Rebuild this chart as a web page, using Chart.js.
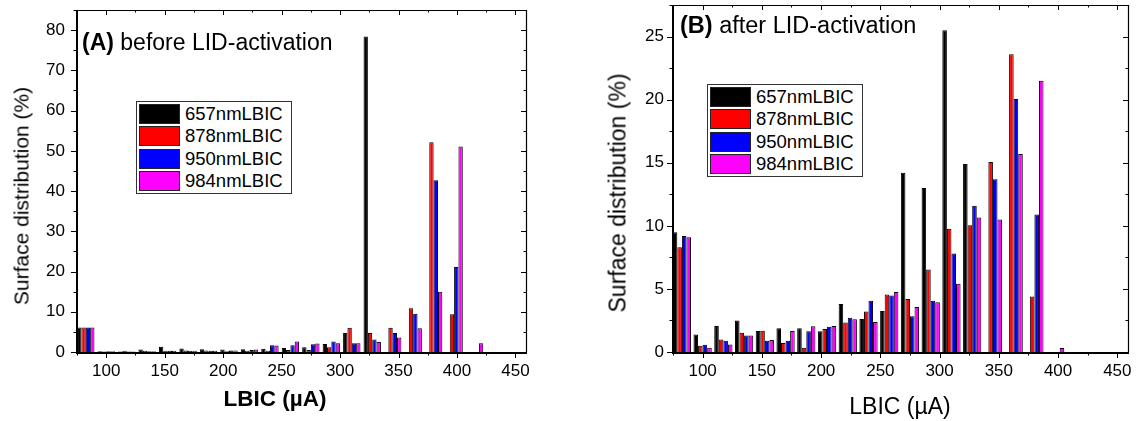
<!DOCTYPE html>
<html>
<head>
<meta charset="utf-8">
<script src="https://cdn.jsdelivr.net/npm/chart.js@4.4.1/dist/chart.umd.min.js"></script>
<style>
    body { margin: 0; background: #fff; width: 1140px; height: 421px; overflow: hidden; position: relative; font-family: "Liberation Sans", Arial, sans-serif; color: #000; }
    .panel { position: absolute; top: 0; width: 570px; height: 421px; }
    .panel canvas { position: absolute; left: 0; top: 0; }
    .lbl { position: absolute; white-space: nowrap; line-height: 1; }
    .rot { transform: translate(-50%, -50%) rotate(-90deg); }
    .legend { position: absolute; border: 1px solid #333; background: #fff; padding: 1px 8px 1px 2px; }
    .legend .row { display: flex; align-items: center; height: 22.3px; font-size: 18.5px; }
    .legend .sw { width: 41px; height: 20px; border: 1px solid #222; box-sizing: border-box; margin-right: 5px; }
</style>
</head>
<body>
<div class="panel" style="left:0">
    <canvas id="chartA" width="570" height="421"></canvas>
</div>
<div class="panel" style="left:570px">
    <canvas id="chartB" width="570" height="421"></canvas>
</div>

<div class="lbl" style="left:82px;top:30.5px;font-size:23px"><b>(A)</b> before LID-activation</div>
<div class="lbl" style="left:680px;top:14px;font-size:23.5px"><b>(B)</b> after LID-activation</div>
<div class="lbl rot" style="left:21px;top:196px;font-size:21px">Surface distribution (%)</div>
<div class="lbl rot" style="left:618px;top:193px;font-size:23px">Surface distribution (%)</div>
<div class="lbl" style="left:275px;top:399px;font-size:22.5px;font-weight:bold;transform:translate(-50%,-50%)">LBIC (µA)</div>
<div class="lbl" style="left:900px;top:406px;font-size:23px;transform:translate(-50%,-50%)">LBIC (µA)</div>

<div class="legend" id="legendA" style="left:136px;top:101px"></div>
<div class="legend" id="legendB" style="left:707px;top:84px"></div>

<script>
// bin centres (µA)
var lbic = [82.5, 100, 117.5, 135, 152.5, 170, 187.5, 205, 222.5, 240, 257.5, 275, 292.5, 310, 327.5, 345, 362.5, 380, 397.5, 415];

var seriesNames = ['657nmLBIC', '878nmLBIC', '950nmLBIC', '984nmLBIC'];
var seriesColors = ['#000000', '#ff0000', '#0000ff', '#ff00ff'];

// (A) before LID-activation, surface distribution in %
var before657 = [6.1, 0.2, 0.1, 0.6, 1.3, 0.9, 0.7, 0.6, 0.7, 0.8, 1.0, 1.2, 2.0, 4.7, 78.4, null, null, null, null, null];
var before878 = [6.1, 0.1, 0.3, 0.3, 0.3, 0.4, 0.4, 0.2, 0.3, 0.3, 0.5, 0.5, 1.2, 6.0, 4.7, 6.0, 10.9, 52.1, 9.4, null];
var before950 = [6.1, 0.2, 0.1, 0.2, 0.3, 0.3, 0.3, 0.4, 0.5, 1.7, 1.7, 1.9, 2.6, 2.2, 3.1, 4.7, 9.5, 42.7, 21.1, null];
var before984 = [6.1, 0.2, 0.1, 0.2, 0.3, 0.3, 0.3, 0.4, 0.6, 1.6, 2.6, 2.1, 2.2, 2.2, 2.5, 3.6, 5.9, 15.0, 51.1, 2.2];

// (B) after LID-activation
var after657 = [9.5, 1.38, 2.06, 2.5, 1.67, 1.88, 1.88, 1.64, 3.8, 2.62, 3.25, 14.2, 13.0, 25.5, 14.9, null, null, null, null, null];
var after878 = [8.3, 0.5, 1.0, 1.53, 1.69, 0.71, 0.34, 1.83, 2.33, 3.2, 4.55, 4.2, 6.53, 9.76, 10.05, 15.05, 23.6, 4.4, null, null];
var after950 = [9.2, 0.58, 0.9, 1.3, 0.9, 0.9, 1.64, 2.0, 2.72, 4.07, 4.47, 2.83, 4.07, 7.8, 11.6, 13.7, 20.05, 10.9, null, null];
var after984 = [9.1, 0.34, 0.6, 1.3, 0.95, 1.67, 2.04, 2.06, 2.6, 2.38, 4.76, 3.57, 3.94, 5.4, 10.66, 10.5, 15.7, 21.5, 0.32, null];

var tickFont = { family: '"Liberation Sans", Arial, sans-serif', size: 17 };

// Origin style frame: ticks out on bottom/left, in on top/right, minor ticks shorter
var frameTicks = {
    id: 'frameTicks',
    afterDatasetsDraw: function(chart, args, opts) {
        var ctx = chart.ctx;
        var a = chart.chartArea;
        var xs = chart.scales.x, ys = chart.scales.y;
        ctx.save();
        ctx.strokeStyle = '#000';
        ctx.lineWidth = 1;
        ctx.beginPath();
        function isMajor(v, step) {
            var r = v / step;
            return Math.abs(r - Math.round(r)) < 1e-6;
        }
        var v, p, len;
        for (v = Math.ceil(xs.min / opts.xMinor) * opts.xMinor; v <= xs.max + 1e-9; v += opts.xMinor) {
            p = Math.round(xs.getPixelForValue(v)) + 0.5;
            len = isMajor(v, opts.xMajor) ? 6 : 3.5;
            ctx.moveTo(p, a.bottom); ctx.lineTo(p, a.bottom + len);
            ctx.moveTo(p, a.top); ctx.lineTo(p, a.top + len - 1);
        }
        for (v = 0; v <= ys.max + 1e-9; v += opts.yMinor) {
            p = Math.round(ys.getPixelForValue(v)) + 0.5;
            len = isMajor(v, opts.yMajor) ? 6 : 3.5;
            ctx.moveTo(a.left - len, p); ctx.lineTo(a.left, p);
            ctx.moveTo(a.right - len + 1, p); ctx.lineTo(a.right, p);
        }
        ctx.stroke();

        // thin top / right border
        ctx.lineWidth = 1.2;
        ctx.beginPath();
        ctx.moveTo(a.left, a.top + 0.5); ctx.lineTo(a.right + 0.5, a.top + 0.5); ctx.lineTo(a.right + 0.5, a.bottom);
        ctx.stroke();
        // heavier left / bottom axes
        ctx.lineWidth = 2;
        ctx.beginPath();
        ctx.moveTo(a.left, a.top); ctx.lineTo(a.left, a.bottom + 1); ctx.lineTo(a.right + 1, a.bottom + 1);
        ctx.stroke();
        ctx.restore();
    }
};

function buildLegend(id) {
    var box = document.getElementById(id);
    seriesNames.forEach(function(name, i) {
        var row = document.createElement('div');
        row.className = 'row';
        var sw = document.createElement('div');
        sw.className = 'sw';
        sw.style.background = seriesColors[i];
        row.appendChild(sw);
        row.appendChild(document.createTextNode(name));
        box.appendChild(row);
    });
}

function makeChart(canvasId, series, cfg) {
    var datasets = series.map(function(vals, i) {
        return {
            label: seriesNames[i],
            data: lbic.map(function(x, j) { return { x: x, y: vals[j] }; }),
            backgroundColor: seriesColors[i],
            borderColor: '#000',
            borderWidth: 1,
            categoryPercentage: cfg.catPct,
            barPercentage: 1
        };
    });
    return new Chart(document.getElementById(canvasId), {
        type: 'bar',
        data: { datasets: datasets },
        options: {
            responsive: false,
            animation: false,
            devicePixelRatio: 1,
            layout: { padding: { left: 0, right: cfg.padRight, top: cfg.padTop, bottom: 0 } },
            plugins: {
                legend: { display: false },
                tooltip: { enabled: false },
                frameTicks: { xMajor: 50, xMinor: 25, yMajor: cfg.yStep, yMinor: cfg.yStep / 2 }
            },
            scales: {
                x: {
                    type: 'linear',
                    offset: false,
                    min: 75,
                    max: 459,
                    grid: { display: false, drawTicks: false, offset: false },
                    border: { display: false },
                    ticks: { stepSize: 50, includeBounds: false, padding: 9, font: tickFont, color: '#000', maxRotation: 0, autoSkip: false },
                    afterFit: function(s) { s.height = 69; s.paddingLeft = 0; s.paddingRight = 0; }
                },
                y: {
                    min: 0,
                    max: cfg.yMax,
                    grid: { display: false, drawTicks: false },
                    border: { display: false },
                    ticks: { stepSize: cfg.yStep, includeBounds: false, padding: cfg.yPad, font: tickFont, color: '#000' },
                    afterFit: function(s) { s.width = cfg.axisW; s.paddingTop = 0; s.paddingBottom = 0; }
                }
            }
        },
        plugins: [frameTicks]
    });
}

makeChart('chartA', [before657, before878, before950, before984],
    { yMax: 85, yStep: 10, axisW: 77, padRight: 44, padTop: 10, catPct: 0.85, yPad: 12 });
makeChart('chartB', [after657, after878, after950, after984],
    { yMax: 27.5, yStep: 5, axisW: 103, padRight: 12, padTop: 5, catPct: 0.88, yPad: 9 });

buildLegend('legendA');
buildLegend('legendB');
</script>
</body>
</html>
